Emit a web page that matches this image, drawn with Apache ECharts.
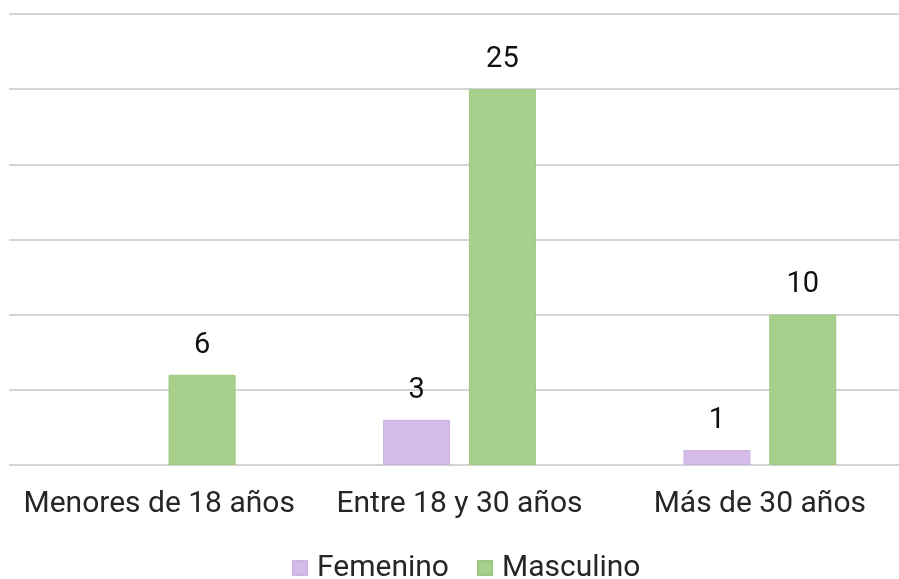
<!DOCTYPE html>
<html><head><meta charset="utf-8">
<script src="https://cdn.jsdelivr.net/npm/echarts@6/dist/echarts.min.js"></script>
<style>html,body{margin:0;padding:0;background:#fff;overflow:hidden}#c{width:911px;height:579px}</style>
</head><body><div id="c"></div>
<script>
const categories = ['Menores de 18 años', 'Entre 18 y 30 años', 'Más de 30 años'];
const femenino = [null, 3, 1];
const masculino = [6, 25, 10];
const yMax = 30;
const yInterval = 5;

const chart = echarts.init(document.getElementById('c'));
const font = 'Roboto, "Liberation Sans", sans-serif';
chart.setOption({
  animation: false,
  textStyle: { fontFamily: font },
  grid: { left: 9, top: 14, width: 901, height: 451, containLabel: false },
  legend: {
    top: 548, left: 287, itemWidth: 14, itemHeight: 14, itemGap: 28,
    icon: 'rect',
    textStyle: { fontSize: 30, color: '#262626', fontFamily: font, padding: [0, 0, 0, 5] },
    data: ['Femenino', 'Masculino']
  },
  xAxis: {
    type: 'category', data: categories,
    axisLine: { show: false }, axisTick: { show: false },
    axisLabel: { fontSize: 30, color: '#262626', margin: 24, fontFamily: font, interval: 0 }
  },
  yAxis: {
    type: 'value', min: 0, max: yMax, interval: yInterval,
    axisLabel: { show: false }, axisLine: { show: false }, axisTick: { show: false },
    splitLine: { lineStyle: { color: '#d4d4d4', width: 2 } }
  },
  series: [
    { name: 'Femenino', type: 'bar', data: femenino, barWidth: 67, barGap: '28%',
      itemStyle: { color: '#d4bbe8', borderColor: '#ccb2e2', borderWidth: 1 },
      label: { show: true, position: 'top', distance: 15, fontSize: 29, color: '#111', fontFamily: font } },
    { name: 'Masculino', type: 'bar', data: masculino, barWidth: 67,
      itemStyle: { color: '#a8d08d', borderColor: '#9cc87f', borderWidth: 1 },
      label: { show: true, position: 'top', distance: 15, fontSize: 29, color: '#111', fontFamily: font } }
  ]
});
</script></body></html>
